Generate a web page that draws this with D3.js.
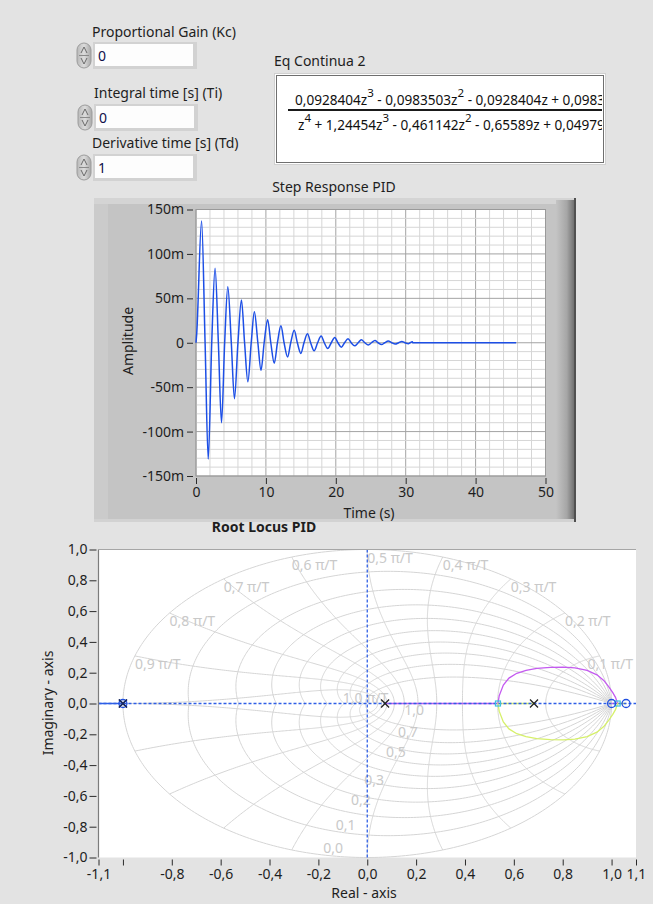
<!DOCTYPE html>
<html><head><meta charset="utf-8">
<script src="https://cdn.jsdelivr.net/npm/d3@7"></script>
<style>
html,body{margin:0;padding:0;background:#e3e3e3;}
svg{display:block;}
text{font-family:"Noto Sans",sans-serif;}
</style></head><body>
<svg id="c" width="653" height="904"></svg>
<script>
// ================= DATA =================
const controlLabels = ["Proportional Gain (Kc)", "Integral time [s] (Ti)", "Derivative time [s] (Td)"];
const controlValues = ["0", "0", "1"];
const eqTitle = "Eq Continua 2";
const numeratorTerms = [["0,0928404z", "3"], [" - 0,0983503z", "2"], [" - 0,0928404z + 0,0983503", ""]];
const denominatorTerms = [["z", "4"], [" + 1,24454z", "3"], [" - 0,461142z", "2"], [" - 0,65589z + 0,0497917", ""]];

// Step response (time in s, amplitude in milli-units)
const stepTitle = "Step Response PID";
const stepTime = [0, 0.1, 0.8, 1.3, 1.75, 2.25, 2.73, 3.2, 3.65, 4.1, 4.55, 5.05, 5.5, 6.0, 6.5, 6.95, 7.42, 7.9,
  8.35, 8.85, 9.3, 9.75, 10.25, 10.7, 11.2, 11.65, 12.15, 12.6, 13.1, 13.55, 14.05, 14.5, 15.0, 15.45, 15.95,
  16.4, 16.9, 17.4, 17.9, 18.35, 18.85, 19.35, 19.85, 20.3, 20.8, 21.25, 21.75, 22.2, 22.7, 23.2, 23.65, 24.15,
  24.65, 25.1, 25.6, 26.05, 26.55, 27.0, 27.5, 28.0, 28.5, 29.0, 29.45, 29.9, 30.4, 30.95, 31.0, 45.8];
const stepAmpMilli = [0, 10, 137, 0, -131, 0, 84, 0, -90, 0, 63, 0, -63, 0, 48, 0, -44, 0,
  35, 0, -31, 0, 26, 0, -23, 0, 19, 0, -16, 0, 14, 0, -12, 0, 10,
  0, -9, 0, 7.5, 0, -6.5, 0, 6, 0, -5, 0, 4.5, 0, -3.5, 0, 3.5, 0,
  -2.5, 0, 2.5, 0, -2, 0, 2, 0, -1.5, 0, 1.5, 0, -1, 1.2, 0, 0];
const stepYTicks = [-150, -100, -50, 0, 50, 100, 150];
const stepYTickLabels = ["-150m", "-100m", "-50m", "0", "50m", "100m", "150m"];
const stepXTicks = [0, 10, 20, 30, 40, 50];
const stepXLabel = "Time (s)";
const stepYLabel = "Amplitude";

// Root locus
const rlTitle = "Root Locus PID";
const poles = [-1.0, -1.0, 0.073, 0.6825];
const zeros = [-1.0, 1.0, 1.0593];
const branchToLeftRe = [-1.0, -1.1];
const branchToLeftIm = [0, 0];
const branchUpperRe = [0.073, 0.535, 0.54, 0.557, 0.58, 0.612, 0.65, 0.694, 0.75, 0.803, 0.85, 0.90, 0.94, 0.968, 0.988, 1.005, 1.016, 1.025, 1.0];
const branchUpperIm = [0, 0, 0.05, 0.12, 0.165, 0.196, 0.215, 0.228, 0.235, 0.236, 0.232, 0.215, 0.186, 0.15, 0.11, 0.07, 0.04, 0, 0];
const branchLowerRe = [0.6825, 0.535, 0.54, 0.557, 0.58, 0.612, 0.65, 0.694, 0.75, 0.803, 0.85, 0.90, 0.94, 0.968, 0.988, 1.005, 1.016, 1.025, 1.0593];
const branchLowerIm = [0, 0, -0.05, -0.12, -0.165, -0.196, -0.215, -0.228, -0.235, -0.236, -0.232, -0.215, -0.186, -0.15, -0.11, -0.07, -0.04, 0, 0];
const breakPointsRe = [0.535, 1.025];
const rlXTicks = [-1.1, -1.0, -0.8, -0.6, -0.4, -0.2, 0.0, 0.2, 0.4, 0.6, 0.8, 1.0, 1.1];
const rlXTickLabels = ["-1,1", "", "-0,8", "-0,6", "-0,4", "-0,2", "0,0", "0,2", "0,4", "0,6", "0,8", "1,0", "1,1"];
const rlYTicks = [-1.0, -0.8, -0.6, -0.4, -0.2, 0.0, 0.2, 0.4, 0.6, 0.8, 1.0];
const rlYTickLabels = ["-1,0", "-0,8", "-0,6", "-0,4", "-0,2", "0,0", "0,2", "0,4", "0,6", "0,8", "1,0"];
const rlXLabel = "Real - axis";
const rlYLabel = "Imaginary - axis";
// z-plane grid
const gridDamping = [0, 0.1, 0.2, 0.3, 0.4, 0.5, 0.6, 0.7, 0.8, 0.9];
const gridFreq = [0.1, 0.2, 0.3, 0.4, 0.5, 0.6, 0.7, 0.8, 0.9, 1.0];
const gridFreqLabels = ["0,1 π/T", "0,2 π/T", "0,3 π/T", "0,4 π/T", "0,5 π/T", "0,6 π/T", "0,7 π/T", "0,8 π/T", "0,9 π/T", "1,0 π/T"];
const dampLabels = ["1,0", "0,7", "0,5", "0,3", "0,2", "0,1", "0,0"];
const dampLabelRe = [0.192, 0.166, 0.117, 0.028, -0.026, -0.088, -0.14];
const dampLabelIm = [-0.042, -0.183, -0.313, -0.497, -0.627, -0.789, -0.938];

// ================= DRAW =================
const svg = d3.select("#c");
const TXT = "#1e1e1e";
const defs = svg.append("defs");

// ---------- controls ----------
const ctrlY = [42, 104, 154];
const labelY = [37, 98, 148];
const labelX = [92, 94, 92];
const spinGrad = defs.append("linearGradient").attr("id", "spin").attr("x1", 0).attr("x2", 1).attr("y1", 0).attr("y2", 0);
spinGrad.append("stop").attr("offset", 0).attr("stop-color", "#b8b8b8");
spinGrad.append("stop").attr("offset", 0.5).attr("stop-color", "#dcdcdc");
spinGrad.append("stop").attr("offset", 1).attr("stop-color", "#a8a8a8");
controlLabels.forEach((lab, i) => {
  svg.append("text").attr("x", labelX[i]).attr("y", labelY[i]).attr("font-size", 14).attr("fill", TXT).text(lab);
  const y0 = ctrlY[i], x0 = i === 1 ? 78 : 77;
  svg.append("rect").attr("x", x0).attr("y", y0 + 1).attr("width", 14).attr("height", 25).attr("rx", 7)
    .attr("fill", "url(#spin)").attr("stroke", "#9c9c9c");
  svg.append("path").attr("d", `M${x0 + 4},${y0 + 11} L${x0 + 7},${y0 + 5} L${x0 + 10},${y0 + 11}`).attr("fill", "none").attr("stroke", "#6a6a6a").attr("stroke-width", 1);
  svg.append("path").attr("d", `M${x0 + 4},${y0 + 16} L${x0 + 7},${y0 + 22} L${x0 + 10},${y0 + 16}`).attr("fill", "none").attr("stroke", "#6a6a6a").attr("stroke-width", 1);
  svg.append("line").attr("x1", x0 + 2).attr("x2", x0 + 12).attr("y1", y0 + 13.5).attr("y2", y0 + 13.5).attr("stroke", "#8a8a8a");
  svg.append("rect").attr("x", x0 + 16).attr("y", y0).attr("width", 104).attr("height", 27).attr("fill", "#d2d2d2");
  svg.append("rect").attr("x", x0 + 18).attr("y", y0 + 2).attr("width", 98).attr("height", 22).attr("fill", "#fdfdfd");
  svg.append("text").attr("x", x0 + 21).attr("y", y0 + 19).attr("font-size", 14).attr("fill", "#10104a").text(controlValues[i]);
});

// ---------- equation ----------
svg.append("text").attr("x", 274).attr("y", 66).attr("font-size", 14).attr("fill", TXT).text(eqTitle);
svg.append("rect").attr("x", 274.5).attr("y", 73.5).attr("width", 331).attr("height", 91).attr("fill", "#ffffff").attr("stroke", "#d0d0d0");
svg.append("rect").attr("x", 276.5).attr("y", 75.5).attr("width", 327).attr("height", 87).attr("fill", "none").attr("stroke", "#6f6f6f");
defs.append("clipPath").attr("id", "eqclip").append("rect").attr("x", 278).attr("y", 76).attr("width", 324).attr("height", 86);
const eqG = svg.append("g").attr("clip-path", "url(#eqclip)");
function writeTerms(x, y, terms) {
  const t = eqG.append("text").attr("x", x).attr("y", y).attr("font-size", 13.6).attr("fill", "#101010");
  let pend = 0;
  terms.forEach(([base, sup]) => {
    t.append("tspan").attr("dy", pend).text(base);
    pend = 0;
    if (sup) {
      t.append("tspan").attr("dy", -8).attr("font-size", 11.5).text(sup);
      pend = 8;
    }
  });
}
writeTerms(295, 105, numeratorTerms);
eqG.append("line").attr("x1", 288).attr("x2", 610).attr("y1", 110).attr("y2", 110).attr("stroke", "#1a1a1a").attr("stroke-width", 2);
writeTerms(298, 130, denominatorTerms);

// ---------- step response ----------
svg.append("text").attr("x", 334).attr("y", 192).attr("text-anchor", "middle").attr("font-size", 14).attr("fill", TXT).text(stepTitle);
// bezel
svg.append("rect").attr("x", 94).attr("y", 198).attr("width", 482).attr("height", 324).attr("fill", "#c4c4c4");
svg.append("rect").attr("x", 94).attr("y", 198).attr("width", 482).attr("height", 6).attr("fill", "#d4d4d4");
svg.append("rect").attr("x", 94).attr("y", 204).attr("width", 14).attr("height", 316).attr("fill", "#cbcbcb");
const rg = defs.append("linearGradient").attr("id", "rside").attr("x1", 0).attr("x2", 1).attr("y1", 0).attr("y2", 0);
rg.append("stop").attr("offset", 0).attr("stop-color", "#c4c4c4");
rg.append("stop").attr("offset", 0.6).attr("stop-color", "#a6a6a6");
rg.append("stop").attr("offset", 1).attr("stop-color", "#707070");
svg.append("rect").attr("x", 556).attr("y", 200).attr("width", 18).attr("height", 322).attr("fill", "url(#rside)");
svg.append("rect").attr("x", 574).attr("y", 198).attr("width", 2).attr("height", 324).attr("fill", "#505050");
svg.append("rect").attr("x", 94).attr("y", 519).attr("width", 480).attr("height", 3).attr("fill", "#d2d2d2");

const sx = d3.scaleLinear().domain([0, 50]).range([196, 545.5]);
const sy = d3.scaleLinear().domain([-150, 150]).range([476, 209.5]);
svg.append("rect").attr("x", 196).attr("y", 209.5).attr("width", 349.5).attr("height", 266.5).attr("fill", "#ffffff");
const sg = svg.append("g");
d3.range(0, 50.01, 2).forEach(v => {
  const major = Math.abs(v % 10) < 1e-9;
  sg.append("line").attr("x1", sx(v)).attr("x2", sx(v)).attr("y1", sy(150)).attr("y2", sy(-150))
    .attr("stroke", major ? "#a3a3a3" : "#d6d6d6").attr("stroke-width", 1);
});
d3.range(-150, 150.01, 10).forEach(v => {
  const major = Math.abs(v % 50) < 1e-9;
  sg.append("line").attr("x1", sx(0)).attr("x2", sx(50)).attr("y1", sy(v)).attr("y2", sy(v))
    .attr("stroke", major ? "#a3a3a3" : "#d6d6d6").attr("stroke-width", 1);
});
svg.append("rect").attr("x", 196).attr("y", 209.5).attr("width", 349.5).attr("height", 266.5).attr("fill", "none").attr("stroke", "#9a9a9a");

const stepPts = stepTime.map((t, i) => [t, stepAmpMilli[i]]);
svg.append("path").datum(stepPts)
  .attr("d", d3.line().x(d => sx(d[0])).y(d => sy(d[1])).curve(d3.curveMonotoneX))
  .attr("fill", "none").attr("stroke", "#1d4fe6").attr("stroke-width", 1.5);

const yAx = svg.append("g").attr("transform", `translate(${sx(0) - 3},0)`)
  .call(d3.axisLeft(sy).tickValues(stepYTicks).tickFormat((d, i) => stepYTickLabels[i]).tickSize(6).tickPadding(3));
const xAx = svg.append("g").attr("transform", `translate(0,${sy(-150) + 2})`)
  .call(d3.axisBottom(sx).tickValues(stepXTicks).tickFormat(d => d).tickSize(6).tickPadding(3));
[yAx, xAx].forEach(a => {
  a.select(".domain").remove();
  a.selectAll(".tick line").attr("stroke", "#2a2a2a");
  a.selectAll(".tick text").attr("font-size", 14).attr("fill", TXT).attr("font-family", "Noto Sans");
});
svg.append("text").attr("x", 369).attr("y", 518).attr("text-anchor", "middle").attr("font-size", 14).attr("fill", TXT).text(stepXLabel);
svg.append("text").attr("transform", "translate(133,341) rotate(-90)").attr("text-anchor", "middle").attr("font-size", 14).attr("fill", TXT).text(stepYLabel);

// ---------- root locus ----------
svg.append("text").attr("x", 264).attr("y", 532).attr("text-anchor", "middle").attr("font-size", 14).attr("font-weight", "bold").attr("fill", TXT).text(rlTitle);
const L = 98.5, R = 636, T = 549.5, B = 857.5;
const rx = d3.scaleLinear().domain([-1.1, 1.1]).range([L, R]);
const ry = d3.scaleLinear().domain([-1, 1]).range([B, T]);
svg.append("rect").attr("x", L).attr("y", T).attr("width", R - L).attr("height", B - T).attr("fill", "#ffffff");
defs.append("clipPath").attr("id", "rlclip").append("rect").attr("x", L).attr("y", T - 1).attr("width", R - L).attr("height", B - T + 2);
const rg2 = svg.append("g").attr("clip-path", "url(#rlclip)");
const zl = d3.line().x(d => rx(d[0])).y(d => ry(d[1]));
const GRID = "#d5d5d5";
// constant damping curves
gridDamping.forEach(z => {
  const k = z / Math.sqrt(1 - z * z);
  [1, -1].forEach(sgn => {
    const pts = d3.range(0, 201).map(i => {
      const th = Math.PI * i / 200, r = Math.exp(-k * th);
      return [r * Math.cos(th), sgn * r * Math.sin(th)];
    });
    rg2.append("path").attr("d", zl(pts)).attr("fill", "none").attr("stroke", GRID).attr("stroke-width", 1);
  });
});
// constant natural frequency curves
gridFreq.forEach(w => {
  const wn = w * Math.PI;
  [1, -1].forEach(sgn => {
    const pts = d3.range(0, 201).map(i => {
      const z = i / 200, r = Math.exp(-z * wn), th = wn * Math.sqrt(1 - z * z);
      return [r * Math.cos(th), sgn * r * Math.sin(th)];
    });
    rg2.append("path").attr("d", zl(pts)).attr("fill", "none").attr("stroke", GRID).attr("stroke-width", 1);
  });
});
// grid labels
const LBL = "#c9c9c9";
gridFreq.forEach((w, i) => {
  let x, y;
  if (w < 1) {
    x = rx(Math.cos(w * Math.PI)); y = ry(Math.sin(w * Math.PI)) + 13;
  } else {
    x = rx(-0.1); y = ry(0) - 1;
  }
  const t = rg2.append("text").attr("x", x).attr("y", y).attr("font-family", "Liberation Serif").attr("font-size", 14).attr("fill", LBL).text(gridFreqLabels[i]);
  const wdt = t.node().getComputedTextLength();
  if (x + wdt > R - 3) t.attr("x", R - 3 - wdt);
});
dampLabels.forEach((s, i) => {
  rg2.append("text").attr("x", rx(dampLabelRe[i])).attr("y", ry(dampLabelIm[i]) + 5).attr("text-anchor", "middle")
    .attr("font-family", "Liberation Serif").attr("font-size", 14).attr("fill", LBL).text(s);
});

// locus branches
const bl = (re, im) => re.map((r, i) => [r, im[i]]);
rg2.append("path").attr("d", zl(bl(branchToLeftRe, branchToLeftIm))).attr("fill", "none").attr("stroke", "#2d5fe8").attr("stroke-width", 1.3);
rg2.append("path").attr("d", zl(bl(branchUpperRe, branchUpperIm))).attr("fill", "none").attr("stroke", "#c45af0").attr("stroke-width", 1.3);
rg2.append("path").attr("d", zl(bl(branchLowerRe, branchLowerIm))).attr("fill", "none").attr("stroke", "#d6f06a").attr("stroke-width", 1.3);
// axes crosshair (dashed blue)
rg2.append("line").attr("x1", L).attr("x2", R).attr("y1", ry(0)).attr("y2", ry(0)).attr("stroke", "#2f5fe6").attr("stroke-width", 1.3).attr("stroke-dasharray", "3,2");
rg2.append("line").attr("x1", rx(0)).attr("x2", rx(0)).attr("y1", T).attr("y2", B).attr("stroke", "#2f5fe6").attr("stroke-width", 1.3).attr("stroke-dasharray", "3,2");
// breakaway markers
breakPointsRe.forEach(b => {
  rg2.append("rect").attr("x", rx(b) - 2.5).attr("y", ry(0) - 2.5).attr("width", 5).attr("height", 5).attr("fill", "none").attr("stroke", "#3cc0e0").attr("stroke-width", 1.2);
});
// zeros
zeros.forEach(z => {
  rg2.append("circle").attr("cx", rx(z)).attr("cy", ry(0)).attr("r", 4).attr("fill", "none").attr("stroke", "#2050e0").attr("stroke-width", 1.3);
});
// poles
poles.forEach(p => {
  const cx = rx(p), cy = ry(0), s = 4;
  rg2.append("path").attr("d", `M${cx - s},${cy - s}L${cx + s},${cy + s}M${cx - s},${cy + s}L${cx + s},${cy - s}`)
    .attr("stroke", p < 0 ? "#1a2a60" : "#222").attr("stroke-width", 1.3);
});
// plot border
svg.append("line").attr("x1", L).attr("x2", R).attr("y1", T).attr("y2", T).attr("stroke", "#a6a6a6");
svg.append("line").attr("x1", L).attr("x2", L).attr("y1", T).attr("y2", B).attr("stroke", "#7c7c7c").attr("stroke-width", 1.2);

const rlY = svg.append("g").attr("transform", `translate(${L - 2},0)`)
  .call(d3.axisLeft(ry).tickValues(rlYTicks).tickFormat((d, i) => rlYTickLabels[i]).tickSize(7).tickPadding(2));
const rlX = svg.append("g").attr("transform", `translate(0,${B + 2})`)
  .call(d3.axisBottom(rx).tickValues(rlXTicks).tickFormat((d, i) => rlXTickLabels[i]).tickSize(6).tickPadding(4));
[rlY, rlX].forEach(a => {
  a.select(".domain").remove();
  a.selectAll(".tick line").attr("stroke", "#2a2a2a");
  a.selectAll(".tick text").attr("font-size", 14).attr("fill", TXT).attr("font-family", "Noto Sans");
});
svg.append("text").attr("x", 364).attr("y", 898).attr("text-anchor", "middle").attr("font-size", 14).attr("fill", TXT).text(rlXLabel);
svg.append("text").attr("transform", "translate(53,703) rotate(-90)").attr("text-anchor", "middle").attr("font-size", 14).attr("fill", TXT).text(rlYLabel);
</script>
</body></html>
